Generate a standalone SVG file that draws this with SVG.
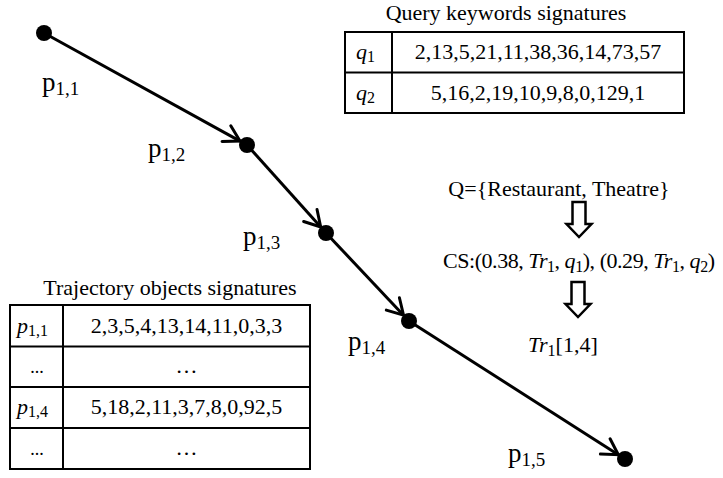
<svg xmlns="http://www.w3.org/2000/svg" width="723" height="478" viewBox="0 0 723 478">
<defs>
<style>
text{font-family:"Liberation Serif","Times New Roman",serif;fill:#000}
.t{font-size:22px}
.lbl{font-size:27px}
.sub{font-size:19px}
.m{font-style:italic}
.ms{font-size:16px;font-style:normal}
.grid{fill:none;stroke:#000;stroke-width:2}
.seg{stroke:#000;stroke-width:3;fill:none;marker-end:url(#vh)}
.pt{fill:#000}
.hollow{fill:#fff;stroke:#000;stroke-width:2.5;stroke-linejoin:miter}
.mid{text-anchor:middle}
.dots{font-size:18px}
</style>
<marker id="vh" markerUnits="userSpaceOnUse" markerWidth="20" markerHeight="24" viewBox="-18 -12 20 24" refX="0" refY="0" orient="auto" overflow="visible">
<path d="M-15.5,-9 L0,0 L-15.5,9" fill="none" stroke="#000" stroke-width="3" stroke-linecap="round" stroke-linejoin="miter"/>
</marker>
<path id="down" d="M-6.5,0 H6.5 V22 H12.5 L0,35 L-12.5,22 H-6.5 Z"/>
</defs>

<!-- trajectory segments -->
<g id="connectors">
<line class="seg" x1="44" y1="33" x2="240" y2="141.1"/>
<line class="seg" x1="247" y1="145" x2="320.7" y2="227"/>
<line class="seg" x1="326" y1="233" x2="403.5" y2="315.2"/>
<line class="seg" x1="409" y1="321" x2="618.3" y2="454.7"/>
</g>

<!-- trajectory points -->
<g id="p11"><circle class="pt" cx="44" cy="33" r="8"/><text class="lbl" x="42" y="91">p<tspan class="sub" dy="4">1,1</tspan></text></g>
<g id="p12"><circle class="pt" cx="247" cy="145" r="8"/><text class="lbl" x="148" y="157">p<tspan class="sub" dy="4">1,2</tspan></text></g>
<g id="p13"><circle class="pt" cx="326" cy="233" r="8"/><text class="lbl" x="243" y="245">p<tspan class="sub" dy="4">1,3</tspan></text></g>
<g id="p14"><circle class="pt" cx="409" cy="321" r="8"/><text class="lbl" x="348" y="350">p<tspan class="sub" dy="4">1,4</tspan></text></g>
<g id="p15"><circle class="pt" cx="625" cy="459" r="8"/><text class="lbl" x="508" y="462">p<tspan class="sub" dy="4">1,5</tspan></text></g>

<!-- query keyword signature table -->
<g id="query-table">
<text class="t mid" x="506" y="20">Query keywords signatures</text>
<rect class="grid" x="345" y="32" width="339" height="81"/>
<line class="grid" x1="392" y1="32" x2="392" y2="113"/>
<line class="grid" x1="345" y1="72.5" x2="684" y2="72.5"/>
<text class="t m" x="356" y="59">q<tspan class="ms" dy="3">1</tspan></text>
<text class="t mid" x="538" y="59">2,13,5,21,11,38,36,14,73,57</text>
<text class="t m" x="356" y="100">q<tspan class="ms" dy="3">2</tspan></text>
<text class="t mid" x="538" y="100">5,16,2,19,10,9,8,0,129,1</text>
</g>

<!-- query processing steps -->
<g id="query">
<text class="t mid" x="559" y="196">Q={Restaurant, Theatre}</text>
</g>
<g id="arrow1"><use href="#down" class="hollow" x="579" y="202"/></g>
<g id="candidates">
<text class="t" x="443" y="268" textLength="272" lengthAdjust="spacing">CS:(0.38, <tspan class="m">Tr</tspan><tspan class="ms" dy="4">1</tspan><tspan dy="-4">, </tspan><tspan class="m">q</tspan><tspan class="ms" dy="4">1</tspan><tspan dy="-4">), (0.29, </tspan><tspan class="m">Tr</tspan><tspan class="ms" dy="4">1</tspan><tspan dy="-4">, </tspan><tspan class="m">q</tspan><tspan class="ms" dy="4">2</tspan><tspan dy="-4">)</tspan></text>
</g>
<g id="arrow2"><use href="#down" class="hollow" x="578" y="282"/></g>
<g id="result">
<text class="t" x="528" y="352"><tspan class="m">Tr</tspan><tspan class="ms" dy="4">1</tspan><tspan dy="-4">[1,4]</tspan></text>
</g>

<!-- trajectory object signature table -->
<g id="trajectory-table">
<text class="t mid" x="170" y="295">Trajectory objects signatures</text>
<rect class="grid" x="10" y="305" width="300" height="164"/>
<line class="grid" x1="63" y1="305" x2="63" y2="469"/>
<line class="grid" x1="10" y1="346.5" x2="310" y2="346.5"/>
<line class="grid" x1="10" y1="387" x2="310" y2="387"/>
<line class="grid" x1="10" y1="428" x2="310" y2="428"/>
<text class="t m" x="17" y="333">p<tspan class="ms" dy="3">1,1</tspan></text>
<text class="t mid" x="186.5" y="333">2,3,5,4,13,14,11,0,3,3</text>
<text class="t mid dots" x="37" y="373">...</text>
<text class="t mid" x="186.5" y="373">…</text>
<text class="t m" x="17" y="414">p<tspan class="ms" dy="3">1,4</tspan></text>
<text class="t mid" x="186.5" y="414">5,18,2,11,3,7,8,0,92,5</text>
<text class="t mid dots" x="37" y="455">...</text>
<text class="t mid" x="186.5" y="455">…</text>
</g>
</svg>
